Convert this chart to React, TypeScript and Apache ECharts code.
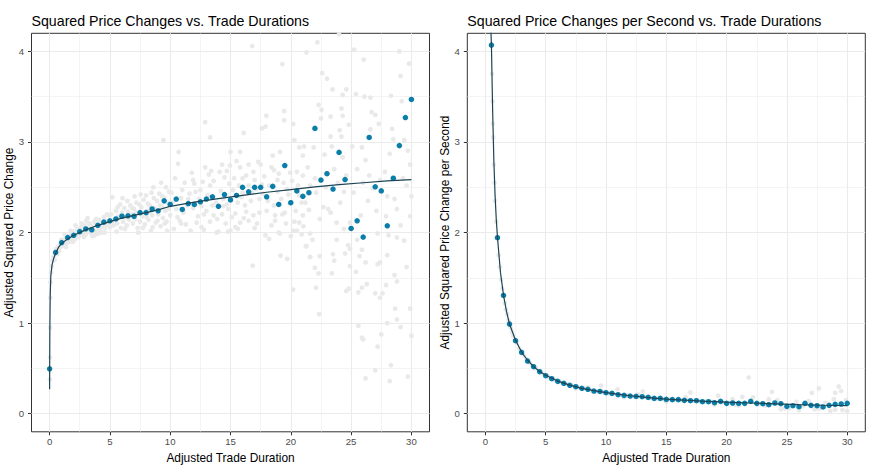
import React, { useEffect, useRef } from "react";
import * as echarts from "echarts";

const FONT = "'Liberation Sans', Arial, Helvetica, sans-serif";

const xTicks = [0, 5, 10, 15, 20, 25, 30];
const xMinor = [2.5, 7.5, 12.5, 17.5, 22.5, 27.5];
const yTicks = [0, 1, 2, 3, 4];
const yMinor = [0.5, 1.5, 2.5, 3.5];
const xRange = [-1.5, 31.5];
const yRange = [-0.2, 4.2];

const titles = [
  "Squared Price Changes vs. Trade Durations",
  "Squared Price Changes per Second vs. Trade Durations",
];
const xName = "Adjusted Trade Duration";
const yNames = ["Adjusted Squared Price Change", "Adjusted Squared Price Change per Second"];

// binned means (left panel)
const leftBins: number[][] = [
  [0, 0.495], [0.5, 1.78], [1, 1.89], [1.5, 1.945], [2, 1.97], [2.5, 2.01], [3, 2.04], [3.5, 2.03],
  [4, 2.08], [4.5, 2.115], [5, 2.13], [5.5, 2.15], [6, 2.18], [6.5, 2.185], [7, 2.18], [7.5, 2.22],
  [8, 2.22], [8.5, 2.26], [9, 2.24], [9.5, 2.35], [10, 2.31], [10.5, 2.37], [11, 2.255], [11.5, 2.32],
  [12, 2.31], [12.5, 2.34], [13, 2.37], [13.5, 2.395], [14, 2.29], [14.5, 2.42], [15, 2.36], [15.5, 2.41],
  [16, 2.5], [16.5, 2.45], [17, 2.5], [17.5, 2.5], [18, 2.395], [18.5, 2.51], [19, 2.31], [19.5, 2.74],
  [20, 2.33], [20.5, 2.46], [21, 2.4], [21.5, 2.44], [22, 3.15], [22.5, 2.58], [23, 2.65], [23.5, 2.48],
  [24, 2.885], [24.5, 2.585], [25, 2.045], [25.5, 2.13], [26, 1.95], [26.5, 3.05], [27, 2.505], [27.5, 2.46],
  [28, 2.075], [28.5, 2.6], [29, 2.96], [29.5, 3.27], [30, 3.47],
];

// fitted curve (left panel)
const leftFit: number[][] = [
  [0, 0.27], [0.02, 0.9], [0.05, 1.3], [0.1, 1.52], [0.2, 1.64], [0.35, 1.72], [0.5, 1.77], [0.75, 1.84],
  [1, 1.88], [1.5, 1.93], [2, 1.97], [3, 2.03], [4, 2.08], [5, 2.12], [6, 2.16], [7, 2.19], [8, 2.22],
  [9, 2.25], [10, 2.29], [12, 2.335], [14, 2.375], [16, 2.41], [18, 2.445], [20, 2.475], [22, 2.505],
  [24, 2.53], [26, 2.55], [28, 2.57], [30, 2.585],
];

// raw observations (left panel)
const leftRaw: number[][] = [
  [0.02, 0.38], [0.03, 0.62], [0.04, 0.95], [0.06, 1.28], [0.08, 1.45], [0.12, 1.56], [0.18, 1.63], [0.25, 1.69],
  [0.32, 1.73], [0.42, 1.7], [0.45, 1.77], [0.55, 1.82], [0.62, 1.76], [0.7, 1.84], [0.78, 1.8], [0.85, 1.87],
  [0.92, 1.84], [0.97, 1.92],
  [1.1, 1.9], [1.2, 1.86], [1.3, 1.93], [1.4, 1.88], [1.5, 1.96], [1.6, 1.92], [1.7, 1.9], [1.8, 1.98],
  [1.9, 1.94], [2.0, 2.01], [2.1, 1.93], [2.2, 1.99], [2.3, 2.03], [2.4, 1.95], [2.5, 1.98], [2.6, 2.06],
  [2.7, 1.99], [2.8, 2.02], [2.9, 2.08], [3.0, 1.98], [3.1, 2.05], [3.2, 2.02], [3.3, 2.1], [3.4, 2.0],
  [3.5, 2.07], [3.6, 2.04], [3.7, 2.12], [3.8, 2.01], [3.9, 2.09], [4.0, 2.05], [4.1, 2.14], [4.2, 2.03],
  [4.3, 2.1], [4.4, 2.07], [4.5, 2.17], [4.6, 2.05], [4.7, 2.12], [4.8, 2.09], [4.9, 2.19], [5.0, 2.06],
  [1.25, 1.98], [2.15, 2.08], [3.05, 2.13], [3.75, 1.97], [4.55, 2.0],
  [1.35, 1.84], [1.95, 1.9], [2.45, 2.04], [2.85, 1.95], [3.35, 2.06], [3.85, 2.15], [4.25, 2.0], [4.75, 2.2],
  [3.55, 1.96], [4.05, 1.99], [4.45, 2.12], [4.95, 2.13], [2.65, 2.1], [3.15, 2.16], [1.75, 2.02],
  [5.1, 2.2], [5.2, 2.39], [5.3, 2.08], [5.4, 2.15], [5.5, 2.24], [5.6, 2.1], [5.7, 2.18], [5.85, 2.31],
  [5.9, 2.05], [6.0, 2.22], [6.1, 2.12], [6.2, 2.27], [6.3, 2.17], [6.4, 2.08], [6.5, 2.23], [6.6, 2.14],
  [6.7, 2.3], [6.8, 2.2], [6.9, 2.1], [7.0, 2.26], [7.1, 2.15], [7.2, 2.33], [7.3, 2.05], [7.4, 2.21],
  [7.5, 2.12], [7.6, 2.28], [7.7, 2.18], [7.8, 2.36], [7.9, 2.09], [8.0, 2.41], [8.1, 2.24], [8.2, 2.14],
  [8.3, 2.3], [8.4, 2.02], [8.5, 2.19], [8.6, 2.5], [8.7, 2.27], [8.8, 2.11], [8.9, 2.35], [9.0, 2.2],
  [9.1, 2.43], [9.2, 2.07], [9.3, 2.29], [9.4, 2.16], [9.44, 3.02], [9.5, 2.38], [9.6, 2.24], [9.7, 2.12],
  [9.8, 2.33], [9.9, 2.45], [10.0, 2.19], [6.45, 2.35], [7.35, 2.0], [8.55, 2.06], [9.25, 2.55], [9.75, 2.02],
  [5.65, 2.28], [8.15, 2.32],
  [5.25, 2.13], [5.55, 2.01], [5.95, 2.19], [6.25, 2.04], [6.55, 2.19], [6.85, 2.27], [7.15, 2.22], [7.45, 2.31],
  [7.75, 2.05], [8.05, 2.17], [8.35, 2.23], [8.65, 2.38], [8.95, 2.13], [9.15, 2.3], [9.35, 2.4], [9.55, 2.1],
  [9.85, 2.26], [6.05, 2.38], [7.05, 2.4], [8.45, 2.44], [9.65, 2.5], [7.55, 2.42],
  [14.1, 2.67], [13.4, 2.68], [14.96, 2.74], [15.5, 2.79], [15.8, 2.72], [16.5, 2.75], [17.3, 2.78], [17.5, 2.75],
  [16.9, 2.67], [18.4, 2.72], [18.6, 2.69], [19.0, 2.65], [19.95, 2.66], [20.5, 2.67], [21.0, 2.63], [11.2, 2.55],
  [12.0, 2.54], [12.7, 2.56], [13.3, 2.52], [14.5, 2.61], [16.5, 2.52], [19.4, 2.55], [10.1, 2.44], [11.6, 2.43],
  [12.4, 2.37], [14.4, 2.37], [15.9, 2.39], [17.4, 2.37], [19.2, 2.37], [20.7, 2.41], [10.5, 2.26], [11.1, 2.22],
  [13.0, 2.24], [13.6, 2.19], [14.8, 2.26], [15.4, 2.21], [16.3, 2.23], [16.9, 2.19], [18.0, 2.24], [18.7, 2.19],
  [19.5, 2.22], [20.4, 2.24], [21.0, 2.19], [10.8, 2.13], [12.2, 2.11], [13.3, 2.12], [14.6, 2.1], [15.8, 2.11],
  [16.5, 2.13], [17.2, 2.1], [18.7, 2.13], [19.6, 2.1], [20.7, 2.11],
  [10.7, 2.89], [10.65, 2.76], [12.9, 3.22], [13.3, 3.05], [16.1, 3.1], [16.8, 4.06], [17.97, 3.29], [17.6, 3.15],
  [17.9, 3.17], [19.3, 3.86], [19.45, 3.34], [19.45, 3.24], [15.0, 2.89], [15.8, 2.89], [14.3, 2.75], [19.1, 2.89],
  [18.5, 2.85], [20.7, 2.94], [21.1, 2.95], [20.3, 3.02], [20.2, 3.2],
  [10.3, 2.04], [11.7, 2.02], [12.8, 2.03], [13.85, 2.0], [14.0, 2.01], [14.8, 2.01], [15.0, 2.02], [15.6, 2.04],
  [17.9, 1.97], [18.2, 1.93], [19.1, 1.99], [19.0, 2.0], [20.2, 2.02], [20.0, 1.96], [20.5, 2.02], [20.9, 1.98],
  [21.25, 1.85], [16.84, 1.635], [19.15, 1.746], [19.7, 1.71], [20.2, 1.37], [21.6, 1.73],
  [10.2, 2.33], [10.9, 2.38], [11.4, 2.3], [11.9, 2.27], [12.1, 2.45], [12.6, 2.29], [13.1, 2.41], [13.8, 2.33],
  [14.2, 2.46], [14.7, 2.31], [15.2, 2.47], [15.6, 2.33], [16.0, 2.44], [16.7, 2.35], [17.0, 2.58], [17.7, 2.43],
  [18.2, 2.52], [18.9, 2.45], [19.7, 2.48], [20.1, 2.57], [11.0, 2.47], [13.6, 2.57], [15.3, 2.6], [17.8, 2.62],
  [12.3, 2.18], [14.3, 2.2], [16.1, 2.16], [18.4, 2.08], [10.4, 2.6], [11.8, 2.66], [12.9, 2.72], [14.9, 2.54],
  [16.3, 2.63], [17.1, 2.48], [18.9, 2.58], [19.9, 2.32], [20.9, 2.33],
  [10.6, 2.17], [11.3, 2.09], [11.5, 2.37], [12.5, 2.47], [12.8, 2.2], [13.5, 2.3], [13.9, 2.15], [14.4, 2.29],
  [15.1, 2.17], [15.7, 2.52], [16.2, 2.3], [16.8, 2.44], [17.4, 2.22], [17.6, 2.53], [18.1, 2.35], [18.6, 2.3],
  [19.3, 2.2], [19.8, 2.42], [20.3, 2.12], [20.6, 2.52], [11.9, 2.58], [13.2, 2.64], [14.7, 2.68], [16.0, 2.6],
  [10.9, 2.1], [12.6, 2.06], [15.4, 2.06], [17.0, 2.05],
  [24.0, 4.19], [22.2, 4.1], [21.3, 3.99], [25.25, 4.02], [26.05, 3.91], [29.0, 4.0], [29.8, 3.865], [22.6, 3.76],
  [23.0, 3.7], [23.46, 3.58], [24.6, 3.58], [24.3, 3.52], [25.4, 3.53], [26.1, 3.5], [26.6, 3.49], [28.3, 3.51],
  [29.1, 3.73], [29.2, 3.45], [22.3, 3.41], [22.55, 3.355], [22.5, 3.26], [23.3, 3.28], [24.2, 3.37], [24.3, 3.29],
  [24.8, 3.19], [24.05, 3.13], [24.2, 3.06], [23.3, 3.06], [26.7, 3.33], [27.0, 3.3], [27.3, 3.2], [26.6, 3.14],
  [28.4, 3.145], [28.5, 3.03], [29.4, 3.02], [29.7, 2.905], [29.9, 2.75], [27.8, 2.67], [28.2, 2.87], [21.0, 2.85],
  [21.9, 2.94], [22.8, 2.86], [23.4, 2.95], [25.1, 2.95], [24.3, 2.83], [25.9, 2.94], [24.6, 2.63], [25.2, 2.44],
  [26.5, 2.63], [26.8, 2.49], [26.4, 2.35], [27.1, 2.24], [28.6, 2.37], [28.8, 2.26], [27.9, 2.18], [29.6, 2.52],
  [23.1, 2.26], [23.3, 2.22], [22.7, 2.28], [21.2, 2.33], [21.5, 2.25], [22.1, 2.44], [21.6, 2.52], [24.1, 2.33],
  [23.8, 2.11], [22.4, 2.15], [24.9, 2.11], [25.8, 2.19], [29.1, 2.08], [29.9, 2.18],
  [21.4, 2.72], [22.0, 2.6], [22.9, 2.5], [23.6, 2.7], [24.4, 2.45], [25.5, 2.7], [26.0, 2.55], [27.4, 2.58],
  [28.0, 2.4], [29.3, 2.6], [30.0, 2.4], [26.2, 2.8], [23.9, 2.55],
  [21.05, 2.07], [21.8, 1.92], [21.3, 1.85], [21.6, 1.99], [23.8, 1.92], [24.4, 2.04], [24.75, 1.86], [24.9, 1.82],
  [25.5, 1.92], [25.9, 1.81], [25.7, 1.74], [26.2, 1.67], [27.2, 1.99], [28.1, 1.97], [28.8, 1.945], [29.4, 1.91],
  [21.6, 1.73], [22.4, 1.74], [23.5, 1.76], [23.6, 1.69], [24.5, 1.77], [24.9, 1.63], [25.4, 1.565], [22.0, 1.61],
  [22.3, 1.55], [23.4, 1.55], [27.2, 1.65], [27.4, 1.67], [28.0, 1.75], [28.6, 1.53], [28.8, 1.46], [29.6, 1.62],
  [22.1, 1.39], [24.6, 1.355], [24.8, 1.38], [25.6, 1.34], [25.9, 1.39], [26.3, 1.43], [27.0, 1.33], [27.6, 1.33],
  [27.4, 1.28], [27.9, 1.42], [22.35, 1.1], [25.6, 0.97], [28.65, 1.16], [28.8, 1.04], [29.9, 1.16], [27.99, 1.0],
  [29.1, 0.955], [25.9, 0.84], [26.0, 0.82], [27.5, 0.875], [27.2, 0.74], [30.0, 0.86], [27.0, 0.48], [28.3, 0.535],
  [26.2, 0.39], [28.2, 0.36], [29.7, 0.41],
];

// binned means (right panel)
const rightBins: number[][] = [
  [0.5, 4.07], [1, 1.943], [1.5, 1.306], [2, 0.99], [2.5, 0.806], [3, 0.677], [3.5, 0.581], [4, 0.519],
  [4.5, 0.464], [5, 0.419], [5.5, 0.386], [6, 0.357], [6.5, 0.335], [7, 0.313], [7.5, 0.298], [8, 0.28],
  [8.5, 0.269], [9, 0.25], [9.5, 0.246], [10, 0.232], [10.5, 0.224], [11, 0.21], [11.5, 0.202], [12, 0.195],
  [12.5, 0.191], [13, 0.188], [13.5, 0.18], [14, 0.169], [14.5, 0.169], [15, 0.158], [15.5, 0.155], [16, 0.155],
  [16.5, 0.147], [17, 0.143], [17.5, 0.143], [18, 0.132], [18.5, 0.132], [19, 0.121], [19.5, 0.136], [20, 0.114],
  [20.5, 0.118], [21, 0.114], [21.5, 0.114], [22, 0.136], [22.5, 0.114], [23, 0.11], [23.5, 0.099], [24, 0.118],
  [24.5, 0.11], [25, 0.081], [25.5, 0.088], [26, 0.077], [26.5, 0.114], [27, 0.092], [27.5, 0.088], [28, 0.074],
  [28.5, 0.092], [29, 0.103], [29.5, 0.107], [30, 0.114],
];

// fitted curve (right panel)
const rightFit: number[][] = [
  [0.4, 4.45], [0.5, 4.07], [0.6, 3.35], [0.7, 2.8], [0.8, 2.42], [0.9, 2.15], [1, 1.95], [1.25, 1.56],
  [1.5, 1.31], [1.75, 1.13], [2, 0.99], [2.5, 0.81], [3, 0.68], [3.5, 0.59], [4, 0.52], [4.5, 0.465],
  [5, 0.425], [6, 0.36], [7, 0.315], [8, 0.28], [9, 0.255], [10, 0.232], [12, 0.198], [14, 0.172],
  [15, 0.16], [16, 0.153], [17, 0.146], [18, 0.139], [19, 0.133], [20, 0.127], [22, 0.118], [24, 0.109],
  [26, 0.1], [28, 0.093], [30, 0.088],
];

// raw observations (right panel)
const rightRaw: number[][] = [
  [0.55, 3.75], [0.6, 3.45], [0.62, 3.2], [0.65, 3.05], [0.7, 2.75], [0.75, 2.55], [0.8, 2.35], [0.9, 2.12],
  [1.1, 1.75], [1.2, 1.62], [1.3, 1.48], [1.4, 1.38], [1.6, 1.22], [1.7, 1.15], [1.8, 1.1], [1.9, 1.03],
  [2.1, 0.95], [2.2, 0.9], [2.3, 0.86], [2.6, 0.78], [2.8, 0.72], [3.2, 0.64], [3.4, 0.6], [3.7, 0.56],
  [3.9, 0.53], [4.2, 0.5], [4.6, 0.46], [4.8, 0.44], [5.2, 0.41], [5.6, 0.39], [5.8, 0.37], [6.2, 0.355],
  [6.6, 0.33], [6.9, 0.32], [7.3, 0.31], [7.7, 0.29], [8.2, 0.28], [8.8, 0.26], [9.2, 0.245], [9.6, 0.31],
  [9.8, 0.24], [10.3, 0.225], [10.95, 0.27], [11.2, 0.205], [11.8, 0.2], [12.3, 0.19], [13.05, 0.245], [13.3, 0.185],
  [13.8, 0.175], [14.3, 0.168], [14.8, 0.16], [15.3, 0.158], [15.8, 0.152], [16.3, 0.15], [17.0, 0.235], [17.3, 0.145],
  [17.8, 0.14], [18.3, 0.135], [18.8, 0.132], [19.3, 0.2], [19.6, 0.128], [20.2, 0.12], [20.7, 0.1], [21.3, 0.185],
  [21.83, 0.4], [22.2, 0.18], [22.6, 0.1], [23.2, 0.09], [23.76, 0.24], [24.2, 0.15], [24.8, 0.06], [25.2, 0.06],
  [25.8, 0.13], [26.3, 0.08], [26.8, 0.14], [27.07, 0.23], [27.3, 0.05], [27.65, 0.28], [27.7, 0.055], [28.2, 0.12],
  [28.6, 0.03], [29.0, 0.23], [29.0, 0.045], [29.3, 0.3], [29.5, 0.25], [29.6, 0.04], [29.9, 0.15], [30.0, 0.03],
  [28.9, 0.16], [26.0, 0.04], [24.5, 0.05], [23.5, 0.16], [21.0, 0.09], [20.5, 0.16], [19.0, 0.1], [16.6, 0.18],
  [15.0, 0.13], [12.7, 0.21], [11.5, 0.18], [8.5, 0.29], [7.5, 0.28],
];

const GRID_COLOR = "#ebebeb";
const RAW_COLOR = "#e9e9e9";
const BIN_COLOR = "#0a7ea9";
const FIT_COLOR = "#1b4554";

export default function App() {
  const ref = useRef<HTMLDivElement>(null);

  useEffect(() => {
    if (!ref.current) return;
    const chart = echarts.init(ref.current, null, { renderer: "svg" });

    const gridBoxes = [
      { left: 31.5, top: 33.3, width: 398, height: 398.5 },
      { left: 467.3, top: 33.3, width: 398, height: 398.5 },
    ];

    const major = { color: GRID_COLOR, width: 1.1, type: "solid" };
    const minor = { color: GRID_COLOR, width: 0.55, type: "solid" };
    const gridLines = [
      ...xTicks.map((v) => ({ xAxis: v, lineStyle: major })),
      ...xMinor.map((v) => ({ xAxis: v, lineStyle: minor })),
      ...yTicks.map((v) => ({ yAxis: v, lineStyle: major })),
      ...yMinor.map((v) => ({ yAxis: v, lineStyle: minor })),
    ];

    const panels = [
      { raw: leftRaw, bins: leftBins, fit: leftFit },
      { raw: rightRaw, bins: rightBins, fit: rightFit },
    ];

    const series: any[] = [];
    panels.forEach((p, i) => {
      series.push({
        type: "scatter",
        xAxisIndex: i,
        yAxisIndex: i,
        data: p.raw,
        symbolSize: 4.8,
        itemStyle: { color: RAW_COLOR, opacity: 1 },
        z: 2,
        silent: true,
        markLine: {
          silent: true,
          z: 1,
          symbol: ["none", "none"],
          label: { show: false },
          animation: false,
          emphasis: { disabled: true },
          data: gridLines,
        },
      });
      series.push({
        type: "scatter",
        xAxisIndex: i,
        yAxisIndex: i,
        data: p.bins,
        symbolSize: 5.5,
        itemStyle: { color: BIN_COLOR, opacity: 1 },
        z: 4,
        silent: true,
      });
      series.push({
        type: "line",
        xAxisIndex: i,
        yAxisIndex: i,
        data: p.fit,
        showSymbol: false,
        symbol: "none",
        smooth: false,
        lineStyle: { color: FIT_COLOR, width: 1.2 },
        z: 5,
        silent: true,
        clip: true,
      });
    });

    const makeX = (i: number) => ({
      type: "value",
      gridIndex: i,
      min: xRange[0],
      max: xRange[1],
      name: xName,
      nameLocation: "middle",
      nameGap: 17.5,
      nameTextStyle: { fontFamily: FONT, fontSize: 11.9, color: "#000000" },
      axisLine: { show: false, onZero: false },
      axisTick: { show: true, length: 3.5, lineStyle: { color: "#333333", width: 1 }, customValues: xTicks },
      axisLabel: { show: true, customValues: xTicks, fontFamily: FONT, fontSize: 9.6, color: "#4d4d4d", margin: 5 },
      splitLine: { show: false },
      minorSplitLine: { show: false },
    });
    const makeY = (i: number) => ({
      type: "value",
      gridIndex: i,
      min: yRange[0],
      max: yRange[1],
      name: yNames[i],
      nameLocation: "middle",
      nameGap: 15,
      nameRotate: 90,
      nameTextStyle: { fontFamily: FONT, fontSize: 11.9, color: "#000000" },
      axisLine: { show: false, onZero: false },
      axisTick: { show: true, length: 3.5, lineStyle: { color: "#333333", width: 1 }, customValues: yTicks },
      axisLabel: { show: true, customValues: yTicks, fontFamily: FONT, fontSize: 9.6, color: "#4d4d4d", margin: 7.5 },
      splitLine: { show: false },
      minorSplitLine: { show: false },
    });

    chart.setOption({
      animation: false,
      backgroundColor: "#ffffff",
      textStyle: { fontFamily: FONT },
      title: titles.map((t, i) => ({
        text: t,
        left: gridBoxes[i].left,
        top: 13.5,
        padding: 0,
        textStyle: { fontFamily: FONT, fontSize: 14.2, fontWeight: "normal", color: "#000000" },
      })),
      grid: gridBoxes.map((g) => ({
        ...g,
        show: true,
        backgroundColor: "#ffffff",
        borderColor: "#333333",
        borderWidth: 1,
        containLabel: false,
      })),
      xAxis: [makeX(0), makeX(1)],
      yAxis: [makeY(0), makeY(1)],
      series,
    });

    return () => chart.dispose();
  }, []);

  return (
    <div
      ref={ref}
      style={{ position: "absolute", left: 0, top: 0, width: 872, height: 476, background: "#ffffff" }}
    />
  );
}
